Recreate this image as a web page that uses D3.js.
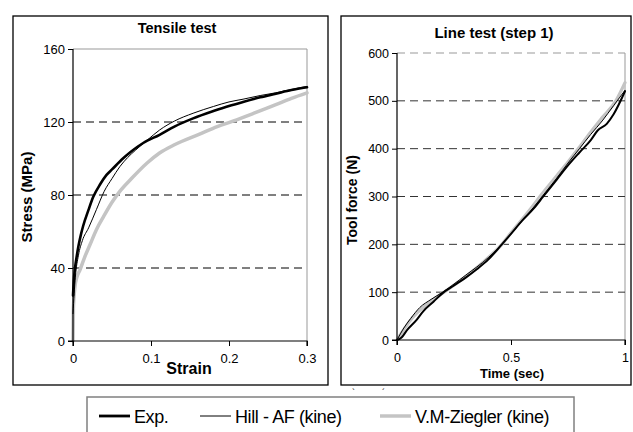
<!DOCTYPE html>
<html><head><meta charset="utf-8">
<script src="https://cdn.jsdelivr.net/npm/d3@7"></script>
<style>body{margin:0;background:#fff}svg{display:block;font-family:"Liberation Sans",Arial,sans-serif}</style>
</head><body>
<svg id="c" width="633" height="432"></svg>
<script>
// ---- Data ----
const tensileXTicks = [0, 0.1, 0.2, 0.3];
const tensileYTicks = [0, 40, 80, 120, 160];
const tensileExp = [[0,25],[0.001,33],[0.0026,40],[0.005,47],[0.007,52],[0.01,58],[0.013,63],[0.02,72],[0.026,79],[0.035,86],[0.043,91],[0.05,94],[0.064,100],[0.075,104],[0.09,108.5],[0.111,113],[0.13,117.5],[0.154,122],[0.18,126],[0.2,128.8],[0.218,131],[0.24,133.5],[0.26,135.5],[0.28,137.5],[0.3,139]];
const tensileHill = [[0,15],[0.003,35],[0.007,47],[0.012,55],[0.02,62],[0.03,72],[0.04,82],[0.05,89],[0.06,95.5],[0.07,100.5],[0.08,104.5],[0.095,110],[0.111,115.6],[0.13,120.5],[0.154,124.8],[0.18,128.5],[0.2,131],[0.218,132.5],[0.24,134.5],[0.26,136],[0.28,137.8],[0.3,139.5]];
const tensileVM = [[0,0],[0.0005,18],[0.0026,30],[0.005,35],[0.009,39],[0.015,46],[0.022,53],[0.03,61],[0.039,68],[0.05,76],[0.06,82],[0.075,89],[0.095,97.5],[0.111,103],[0.13,107.5],[0.163,113.5],[0.185,117.5],[0.205,120.5],[0.23,124.5],[0.26,129.5],[0.28,133],[0.3,136]];

const lineXTicks = [0, 0.5, 1];
const lineYTicks = [0, 100, 200, 300, 400, 500, 600];
const lineExp = [[0,0],[0.02,5],[0.043,20],[0.086,42],[0.115,60],[0.16,80],[0.2,98],[0.25,114],[0.3,130],[0.35,148],[0.4,168],[0.46,200],[0.5,222],[0.55,250],[0.6,275],[0.64,299],[0.7,335],[0.75,365],[0.8,392],[0.85,418],[0.88,438],[0.92,452],[0.95,472],[1.0,520]];
const lineHill = [[0,0],[0.03,25],[0.06,45],[0.1,68],[0.15,85],[0.2,100],[0.3,135],[0.4,172],[0.46,200],[0.5,222],[0.55,250],[0.6,278],[0.65,308],[0.7,338],[0.75,370],[0.8,400],[0.85,430],[0.9,458],[0.95,490],[1.0,522]];
const lineVM = [[0,0],[0.03,22],[0.06,42],[0.1,62],[0.15,82],[0.2,98],[0.3,132],[0.4,172],[0.46,200],[0.5,224],[0.55,253],[0.6,283],[0.627,300],[0.7,343],[0.75,372],[0.8,403],[0.85,435],[0.9,465],[0.96,500],[1.0,538]];

const legendLabels = ["Exp.", "Hill - AF (kine)", "V.M-Ziegler (kine)"];

// ---- Drawing ----
const svg = d3.select("#c");

function panel(o) {
  svg.append("rect").attr("x", o.frame[0]).attr("y", o.frame[1])
    .attr("width", o.frame[2]).attr("height", o.frame[3])
    .attr("fill", "none").attr("stroke", "#000").attr("stroke-width", 1.3);

  const x = d3.scaleLinear().domain(o.xDomain).range([o.x0, o.x1]);
  const y = d3.scaleLinear().domain(o.yDomain).range([o.y0, o.y1]);
  const g = svg.append("g");

  g.append("line").attr("x1", x.range()[1]).attr("x2", x.range()[1])
    .attr("y1", y.range()[0]).attr("y2", y.range()[1]).attr("stroke", "#999").attr("stroke-width", 1);
  g.append("line").attr("x1", x.range()[0]).attr("x2", x.range()[1])
    .attr("y1", y.range()[1]).attr("y2", y.range()[1]).attr("stroke", "#999").attr("stroke-width", 1)
    .attr("stroke-dasharray", o.topDash ? "8,5" : null);

  g.selectAll(".grid").data(o.yTicks.slice(1, -1)).enter().append("line")
    .attr("x1", x.range()[0]).attr("x2", x.range()[1])
    .attr("y1", d => y(d)).attr("y2", d => y(d))
    .attr("stroke", o.gridColor).attr("stroke-width", 1).attr("stroke-dasharray", "8,5");

  const line = d3.line().x(d => x(d[0])).y(d => y(d[1])).curve(d3.curveMonotoneX);
  o.series.forEach(s => {
    g.append("path").datum(s.data).attr("d", line)
      .attr("fill", "none").attr("stroke", s.color).attr("stroke-width", s.width)
      .attr("stroke-linejoin", "round").attr("stroke-linecap", "round");
  });

  const xAxis = d3.axisBottom(x).tickValues(o.xTicks).tickSize(5).tickPadding(6)
    .tickFormat(d => String(d));
  const yAxis = d3.axisLeft(y).tickValues(o.yTicks).tickSize(5).tickPadding(3)
    .tickFormat(d => String(d));
  const gx = svg.append("g").attr("transform", `translate(0,${o.y0})`).call(xAxis);
  const gy = svg.append("g").attr("transform", `translate(${o.x0},0)`).call(yAxis);
  [gx, gy].forEach(a => {
    a.attr("font-family", "Liberation Sans, Arial, sans-serif");
    a.select(".domain").attr("stroke", "#000").attr("stroke-width", 1.2);
    a.selectAll(".tick line").attr("stroke", "#000").attr("stroke-width", 1);
    a.selectAll("text").attr("font-size", o.tickFont).attr("fill", "#000");
  });
  gx.selectAll("text").attr("dy", null).attr("y", o.xLabY - o.y0);
  gx.select(".domain").attr("d", `M${o.x0},5V0H${o.x1}V5`);
  gy.select(".domain").attr("d", `M-5,${o.y0}H0V${o.y1}`);

  svg.append("text").attr("x", o.title[1]).attr("y", o.title[2]).attr("text-anchor", "middle")
    .attr("font-weight", "bold").attr("font-size", o.title[3]).text(o.title[0]);
  svg.append("text").attr("x", o.xTitle[1]).attr("y", o.xTitle[2]).attr("text-anchor", "middle")
    .attr("font-weight", "bold").attr("font-size", o.xTitle[3]).text(o.xTitle[0]);
  svg.append("text").attr("transform", `translate(${o.yTitle[1]},${o.yTitle[2]}) rotate(-90)`)
    .attr("text-anchor", "middle").attr("font-weight", "bold").attr("font-size", o.yTitle[3]).text(o.yTitle[0]);
}

panel({
  frame: [13, 16, 315, 369],
  xDomain: [0, 0.3], yDomain: [0, 160],
  x0: 73, x1: 307, y0: 341, y1: 49,
  xTicks: tensileXTicks, yTicks: tensileYTicks,
  gridColor: "#000", topDash: false, tickFont: 13, xLabY: 363,
  series: [
    {data: tensileVM, color: "#c4c4c4", width: 3.5},
    {data: tensileExp, color: "#000", width: 2.6},
    {data: tensileHill, color: "#000", width: 1}
  ],
  title: ["Tensile test", 177, 33, 14.5],
  xTitle: ["Strain", 189, 374, 16],
  yTitle: ["Stress (MPa)", 32, 197, 15]
});

panel({
  frame: [341, 16, 290, 369],
  xDomain: [0, 1], yDomain: [0, 600],
  x0: 397, x1: 625, y0: 340, y1: 53,
  xTicks: lineXTicks, yTicks: lineYTicks,
  gridColor: "#333", topDash: true, tickFont: 12.5, xLabY: 362,
  series: [
    {data: lineVM, color: "#c4c4c4", width: 3.2},
    {data: lineExp, color: "#000", width: 2},
    {data: lineHill, color: "#000", width: 1}
  ],
  title: ["Line test (step 1)", 494, 38, 15],
  xTitle: ["Time (sec)", 512, 378, 13],
  yTitle: ["Tool force (N)", 357, 200, 14]
});

svg.append("text").attr("x", 352).attr("y", 395).attr("font-size", 9).text("`");
svg.append("text").attr("x", 382).attr("y", 395).attr("font-size", 9).text("´");

const leg = svg.append("g");
leg.append("rect").attr("x", 87).attr("y", 397).attr("width", 487).attr("height", 50)
  .attr("fill", "#fff").attr("stroke", "#808080").attr("stroke-width", 1.5);
const legItems = [
  {label: legendLabels[0], color: "#000", width: 2.8, x: 99},
  {label: legendLabels[1], color: "#000", width: 1, x: 200},
  {label: legendLabels[2], color: "#c4c4c4", width: 3.5, x: 380}
];
legItems.forEach(it => {
  leg.append("line").attr("x1", it.x).attr("x2", it.x + 31).attr("y1", 416).attr("y2", 416)
    .attr("stroke", it.color).attr("stroke-width", it.width);
  leg.append("text").attr("x", it.x + 35).attr("y", 423).attr("font-size", 18)
    .attr("letter-spacing", -0.4).text(it.label);
});
</script>
</body></html>
